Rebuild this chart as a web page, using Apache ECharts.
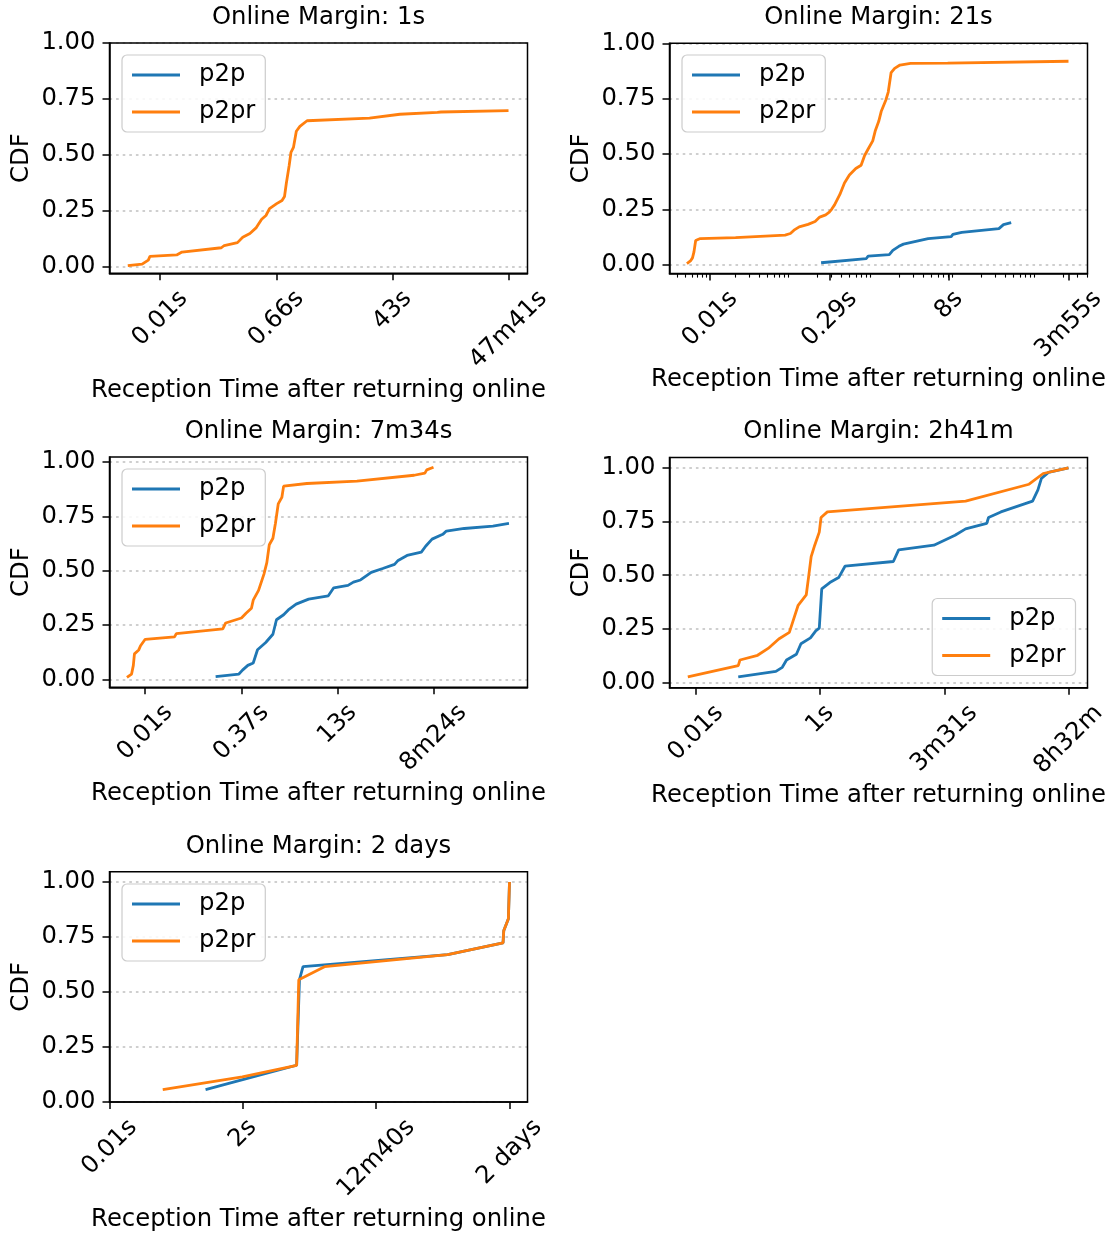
<!DOCTYPE html>
<html>
<head>
<meta charset="utf-8">
<script src="https://cdn.jsdelivr.net/npm/echarts@6/dist/echarts.min.js"></script>
<style>
html,body{margin:0;padding:0;background:#fff;}
#c{width:1113px;height:1234px;}
</style>
</head>
<body>
<div id="c"></div>
<script>
// ---------------- DATA ----------------
const panelTitles = ['Online Margin: 1s', 'Online Margin: 21s', 'Online Margin: 7m34s', 'Online Margin: 2h41m', 'Online Margin: 2 days'];
const seriesNames = ['p2p', 'p2pr'];

// x tick values (seconds) and their labels
const ticks1 = [0.01, 0.659, 43.42, 2861];
const tickLabels1 = ['0.01s', '0.66s', '43s', '47m41s'];
const ticks2 = [0.01, 0.2864, 8.205, 235];
const tickLabels2 = ['0.01s', '0.29s', '8s', '3m55s'];
const minorTicks2 = [0.004, 0.005, 0.006, 0.007, 0.008, 0.009, 0.02, 0.03, 0.04, 0.05, 0.06, 0.07, 0.08, 0.09,
  0.2, 0.3, 0.4, 0.5, 0.6, 0.7, 0.8, 0.9, 2, 3, 4, 5, 6, 7, 8, 9, 20, 30, 40, 50, 60, 70, 80, 90, 200, 300, 400];
const ticks3 = [0.01, 0.3694, 13.64, 504];
const tickLabels3 = ['0.01s', '0.37s', '13s', '8m24s'];
const ticks4 = [0.01, 1.454, 211.3, 30720];
const tickLabels4 = ['0.01s', '1s', '3m31s', '8h32m'];
const ticks5 = [0.01, 2.757, 760.2, 209600];
const tickLabels5 = ['0.01s', '2s', '12m40s', '2 days'];
const yTicks = [0, 0.25, 0.5, 0.75, 1.0];

// Panel 1 (1s)
const m1P2pT = [];
const m1P2pCdf = [];
const m1P2prT = [0.0031, 0.0052, 0.0065, 0.0069, 0.0181, 0.0219, 0.0906, 0.1005, 0.162, 0.196, 0.254, 0.320, 0.388, 0.453, 0.515, 0.667, 0.809, 0.885, 0.944, 1.047, 1.117, 1.222, 1.355, 1.542, 1.995, 19.0, 56.9, 220, 250, 2861];
const m1P2prCdf = [0.006, 0.013, 0.031, 0.048, 0.054, 0.067, 0.086, 0.096, 0.109, 0.133, 0.150, 0.176, 0.213, 0.230, 0.261, 0.283, 0.297, 0.315, 0.373, 0.453, 0.512, 0.534, 0.606, 0.628, 0.653, 0.665, 0.682, 0.690, 0.692, 0.698];

// Panel 2 (21s)
const m2P2pT = [0.2254, 0.8035, 0.8453, 1.531, 1.690, 2.004, 2.280, 4.560, 8.710, 9.141, 11.72, 33.27, 37.84, 46.99];
const m2P2pCdf = [0.010, 0.029, 0.040, 0.047, 0.066, 0.084, 0.094, 0.119, 0.128, 0.138, 0.147, 0.164, 0.182, 0.191];
const m2P2prT = [0.0052, 0.00574, 0.00608, 0.00634, 0.00665, 0.00757, 0.0204, 0.082, 0.0951, 0.1052, 0.1219, 0.1563, 0.1905, 0.2168, 0.2564, 0.2838, 0.3041, 0.3289, 0.3819, 0.4345, 0.4989, 0.597, 0.6934, 0.7656, 0.8453, 0.9616, 1.030, 1.138, 1.219, 1.387, 1.486, 1.611, 1.778, 2.065, 2.780, 7.889, 235];
const m2P2prCdf = [0.006, 0.018, 0.032, 0.059, 0.110, 0.119, 0.123, 0.135, 0.142, 0.157, 0.172, 0.183, 0.196, 0.216, 0.226, 0.238, 0.252, 0.271, 0.318, 0.370, 0.406, 0.435, 0.450, 0.494, 0.523, 0.560, 0.604, 0.648, 0.692, 0.743, 0.780, 0.868, 0.887, 0.902, 0.909, 0.911, 0.919];

// Panel 3 (7m34s)
const m3P2pT = [0.1409, 0.3381, 0.3864, 0.4721, 0.5781, 0.6792, 0.9247, 1.211, 1.384, 1.811, 2.158, 2.897, 4.634, 9.705, 11.89, 20.32, 24.89, 32.51, 48.64, 74.82, 116.7, 133.4, 186.6, 319.2, 375.0, 477.5, 714.5, 816.6, 1600, 4688, 8570];
const m3P2pCdf = [0.012, 0.024, 0.042, 0.064, 0.075, 0.136, 0.169, 0.207, 0.274, 0.297, 0.319, 0.346, 0.369, 0.384, 0.421, 0.432, 0.447, 0.457, 0.492, 0.510, 0.529, 0.547, 0.570, 0.585, 0.612, 0.645, 0.667, 0.682, 0.694, 0.705, 0.717];
const m3P2prT = [0.00504, 0.0060, 0.00641, 0.00668, 0.00785, 0.0084, 0.0100, 0.0301, 0.0322, 0.1845, 0.2056, 0.3715, 0.4416, 0.5408, 0.5781, 0.7063, 0.865, 0.9638, 1.057, 1.211, 1.330, 1.479, 1.694, 1.811, 4.335, 28.44, 243.8, 364.8, 390.8, 504];
const m3P2prCdf = [0.009, 0.024, 0.064, 0.117, 0.135, 0.154, 0.184, 0.195, 0.210, 0.232, 0.259, 0.282, 0.304, 0.327, 0.364, 0.409, 0.484, 0.537, 0.619, 0.649, 0.717, 0.807, 0.837, 0.889, 0.901, 0.912, 0.939, 0.949, 0.964, 0.976];

// Panel 4 (2h41m)
const m4P2pT = [0.0546, 0.2472, 0.3192, 0.3784, 0.5623, 0.6745, 0.9886, 1.222, 1.406, 1.552, 2.148, 3.062, 3.945, 27.42, 33.88, 139.3, 325.1, 496.6, 1159, 1245, 2042, 7278, 9016, 10375, 13772, 30720];
const m4P2pCdf = [0.026, 0.052, 0.071, 0.105, 0.132, 0.181, 0.208, 0.241, 0.253, 0.436, 0.466, 0.489, 0.542, 0.564, 0.618, 0.640, 0.686, 0.716, 0.742, 0.769, 0.795, 0.845, 0.898, 0.951, 0.979, 1.0];
const m4P2prT = [0.00723, 0.0546, 0.0585, 0.1186, 0.1811, 0.2773, 0.4236, 0.4875, 0.6026, 0.8337, 0.9204, 1.016, 1.172, 1.406, 1.510, 1.945, 496.6, 6324, 11143, 30720];
const m4P2prCdf = [0.026, 0.079, 0.105, 0.127, 0.159, 0.203, 0.234, 0.284, 0.360, 0.408, 0.496, 0.587, 0.640, 0.701, 0.769, 0.795, 0.845, 0.924, 0.974, 1.0];

// Panel 5 (2 days)
const m5P2pT = [0.5728, 4.932, 26.61, 29.99, 34.83, 15488, 159588, 164437, 199986, 209600];
const m5P2pCdf = [0.056, 0.119, 0.167, 0.556, 0.615, 0.670, 0.723, 0.778, 0.833, 1.0];
const m5P2prT = [0.0942, 2.698, 26.61, 29.11, 86.1, 15488, 159588, 164437, 199986, 209600];
const m5P2prCdf = [0.056, 0.114, 0.167, 0.556, 0.615, 0.670, 0.723, 0.778, 0.833, 1.0];

// ---------------- LAYOUT / STYLE ----------------
const FONT = 'DejaVu Sans';
const FS = 24.3;
const BLUE = '#1f77b4', ORANGE = '#ff7f0e';
const mctx = document.createElement('canvas').getContext('2d');
mctx.font = FS + 'px "' + FONT + '"';
const textW = s => mctx.measureText(s).width;
const C45 = Math.SQRT1_2;
const zip = (t, c) => t.map((v, i) => [v, c[i]]);

const panels = [
  {grid: {left: 109.5, top: 43, width: 418, height: 230.3}, xMin: 0.001603, xMax: 5675, yMin: -0.028, yMax: 1.0,
   ticks: ticks1, labels: tickLabels1, p2p: zip(m1P2pT, m1P2pCdf), p2pr: zip(m1P2prT, m1P2prCdf), legend: {left: 122, top: 55}},
  {grid: {left: 669.5, top: 43.3, width: 418, height: 230.3}, xMin: 0.003188, xMax: 400.8, yMin: -0.039, yMax: 1.0,
   ticks: ticks2, labels: tickLabels2, minor: minorTicks2, p2p: zip(m2P2pT, m2P2pCdf), p2pr: zip(m2P2prT, m2P2prCdf), legend: {left: 682, top: 55}},
  {grid: {left: 109.5, top: 457, width: 418, height: 230.3}, xMin: 0.002618, xMax: 17200, yMin: -0.037, yMax: 1.023,
   ticks: ticks3, labels: tickLabels3, p2p: zip(m3P2pT, m3P2pCdf), p2pr: zip(m3P2prT, m3P2prCdf), legend: {left: 122, top: 469}},
  {grid: {left: 669.5, top: 457.4, width: 418, height: 230.3}, xMin: 0.00347, xMax: 65800, yMin: -0.024, yMax: 1.049,
   ticks: ticks4, labels: tickLabels4, p2p: zip(m4P2pT, m4P2pCdf), p2pr: zip(m4P2prT, m4P2prCdf), legend: {right: 37.5, bottom: 558.5}},
  {grid: {left: 109.5, top: 871.7, width: 418, height: 230.3}, xMin: 0.00999, xMax: 447500, yMin: 0, yMax: 1.047,
   ticks: ticks5, labels: tickLabels5, p2p: zip(m5P2pT, m5P2pCdf), p2pr: zip(m5P2prT, m5P2prCdf), legend: {left: 122, top: 884}}
];

const baseText = {fontFamily: FONT, fontSize: FS, color: '#000'};
const option = {
  animation: false,
  backgroundColor: '#fff',
  textStyle: {fontFamily: FONT},
  title: [], grid: [], xAxis: [], yAxis: [], series: [], legend: []
};

panels.forEach((p, k) => {
  const g = p.grid;
  option.grid.push(Object.assign({show: true, borderColor: '#000', borderWidth: 1.5, backgroundColor: 'transparent',
    z: 3, containLabel: false, outerBoundsMode: 'none'}, g));

  option.title.push({
    text: panelTitles[k], left: g.left + g.width / 2, top: g.top - 37.5, textAlign: 'center', padding: 0,
    textStyle: Object.assign({fontWeight: 'normal', lineHeight: 24}, baseText)
  });

  // rotated tick labels: bbox centred on tick like matplotlib
  const rich = {};
  let wmax = 0;
  p.labels.forEach((l, i) => {
    const w = textW(l);
    wmax = Math.max(wmax, w);
    const pad = w / 2;
    rich['t' + i] = Object.assign({padding: [pad, pad, 0, 0]}, baseText);
  });
  const ticks = p.ticks, labels = p.labels;
  const xi = option.xAxis.length;
  option.xAxis.push({
    type: 'log', logBase: 10, gridIndex: k, min: p.xMin, max: p.xMax, position: 'bottom',
    name: 'Reception Time after returning online', nameLocation: 'middle', nameGap: 36 + wmax * C45,
    nameMoveOverlap: false,
    nameTextStyle: Object.assign({lineHeight: 24}, baseText),
    axisLine: {show: true, onZero: false, lineStyle: {color: '#000', width: 1.5}},
    axisTick: {show: true, customValues: ticks, length: 7, lineStyle: {color: '#000', width: 1.5}},
    axisLabel: Object.assign({
      customValues: ticks, rotate: 45, align: 'center', verticalAlign: 'middle', margin: 21.6,
      rich: rich,
      formatter: function (v) {
        let idx = 0, best = Infinity;
        ticks.forEach((t, i) => { const d = Math.abs(Math.log(v / t)); if (d < best) { best = d; idx = i; } });
        return '{t' + idx + '|' + labels[idx] + '}';
      }
    }, baseText),
    splitLine: {show: false}, minorTick: {show: false}, minorSplitLine: {show: false}
  });
  if (p.minor) {
    option.xAxis.push({
      type: 'log', logBase: 10, gridIndex: k, min: p.xMin, max: p.xMax, position: 'bottom', offset: 0,
      axisLine: {show: false, onZero: false},
      axisTick: {show: true, customValues: p.minor, length: 4, lineStyle: {color: '#000', width: 1.1}},
      axisLabel: {show: false}, splitLine: {show: false}
    });
  }
  option.yAxis.push({
    type: 'value', gridIndex: k, min: p.yMin, max: p.yMax,
    name: 'CDF', nameLocation: 'middle', nameGap: 75.5, nameRotate: 90, nameMoveOverlap: false,
    nameTextStyle: Object.assign({lineHeight: 24}, baseText),
    axisLine: {show: true, onZero: false, lineStyle: {color: '#000', width: 1.5}},
    axisTick: {show: true, customValues: yTicks, length: 7, lineStyle: {color: '#000', width: 1.5}},
    axisLabel: Object.assign({customValues: yTicks, margin: 14, formatter: v => v.toFixed(2)}, baseText),
    splitLine: {show: true, lineStyle: {color: '#cfcfcf', width: 2.2, type: [2.6, 4]}}
  });
  [['p2p', p.p2p, BLUE], ['p2pr', p.p2pr, ORANGE]].forEach(([nm, d, col]) => {
    option.series.push({
      type: 'line', name: nm, xAxisIndex: xi, yAxisIndex: k, data: d,
      showSymbol: false, symbol: 'none', smooth: false,
      lineStyle: {width: 2.8, color: col}, itemStyle: {color: col}, z: 2
    });
  });
  option.legend.push(Object.assign({
    orient: 'vertical', data: seriesNames, icon: 'rect', itemWidth: 48, itemHeight: 3, itemGap: 11,
    padding: [7, 10, 7, 10], backgroundColor: 'rgba(255,255,255,0.85)', borderColor: '#cccccc', borderWidth: 1.2,
    borderRadius: 5, selectedMode: false, z: 6,
    textStyle: Object.assign({lineHeight: 26, padding: [0, 0, 0, 14]}, baseText)
  }, p.legend));
});

const chart = echarts.init(document.getElementById('c'), null, {renderer: 'canvas', width: 1113, height: 1234});
chart.setOption(option);
</script>
</body>
</html>
